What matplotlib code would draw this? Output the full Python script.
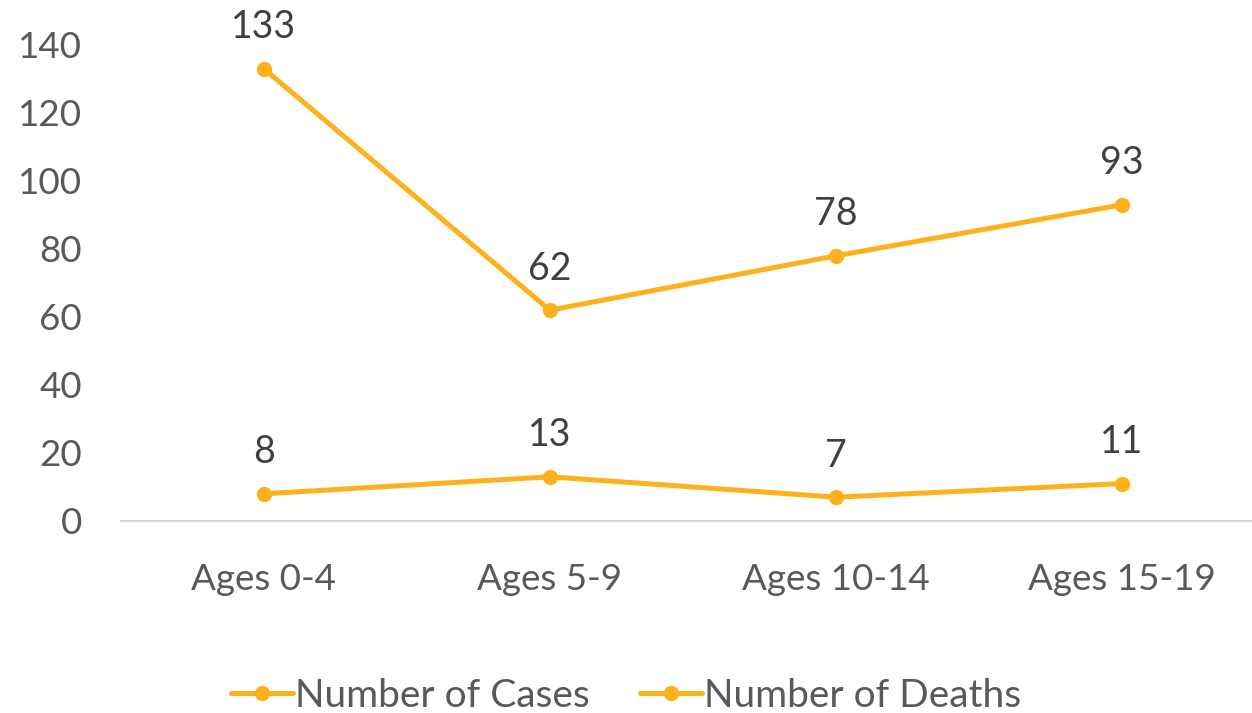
import matplotlib.pyplot as plt

plt.rcParams['font.family'] = ['Lato', 'DejaVu Sans']

ages = ['Ages 0-4', 'Ages 5-9', 'Ages 10-14', 'Ages 15-19']
cases = [133, 62, 78, 93]
deaths = [8, 13, 7, 11]

orange = '#FFB11B'
x = range(len(ages))

fig = plt.figure(figsize=(12.52, 7.13), dpi=100)
ax = fig.add_axes([0.0966, 0.2693, 0.9034, 0.6676])

for vals, name in [(cases, 'Number of Cases'), (deaths, 'Number of Deaths')]:
    ax.plot(x, vals, color=orange, lw=3.6, marker='o', ms=10, label=name,
            solid_capstyle='round', clip_on=False)
    for i, v in zip(x, vals):
        ax.annotate(str(v), (i, v), xytext=(0, 17), textcoords='offset points',
                    ha='center', va='bottom', fontsize=27, color='#404040')

ax.set_xlim(-0.5, 3.455)
ax.set_ylim(0, 140)
ax.set_yticks(range(0, 141, 20))
ax.set_xticks(list(x))
ax.set_xticklabels(ages)
ax.tick_params(length=0, labelsize=26.5, labelcolor='#595959')
ax.tick_params(axis='x', pad=30)
ax.tick_params(axis='y', pad=28)
for s in ['top', 'right', 'left']:
    ax.spines[s].set_visible(False)
ax.spines['bottom'].set_color('#D9D9D9')
ax.spines['bottom'].set_linewidth(1.5)

fig.legend(loc='lower center', bbox_to_anchor=(0.5, -0.05), ncol=2, frameon=False,
           fontsize=28, labelcolor='#595959', handlelength=1.6, handletextpad=0.05,
           columnspacing=1.3)

fig.savefig('out.png', dpi=100)
